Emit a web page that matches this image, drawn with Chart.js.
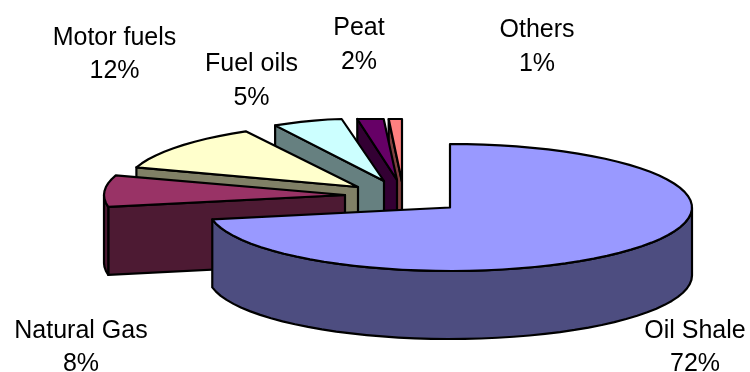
<!DOCTYPE html>
<html>
<head>
<meta charset="utf-8">
<style>
  html, body { margin: 0; padding: 0; background: #fff; }
  canvas { display: block; }
</style>
<script src="https://cdn.jsdelivr.net/npm/chart.js@4/dist/chart.umd.min.js"></script>
</head>
<body>
<canvas id="chart" width="750" height="372"></canvas>
<script>
// Energy source shares
const categories = ['Oil Shale', 'Natural Gas', 'Motor fuels', 'Fuel oils', 'Peat', 'Others'];
const shares = [72, 8, 12, 5, 2, 1];

// Slice colours: top faces and their shaded walls
const topColors = ['#9999FF', '#993366', '#FFFFCC', '#CCFFFF', '#660066', '#FF8080'];
const wallColors = ['#4D4D80', '#4D1A33', '#808066', '#668080', '#330033', '#804040'];

// Where each exploded slice's tip sits on the page
const sliceTips = [[450, 207.5], [345, 195], [358, 187], [384, 181], [397, 180], [402, 182]];

// Horizontal radius per slice: farther slices shrink with perspective
const sliceSpans = [242, 241, 233, 226, 212, 212];

// Label anchors: centre x, name baseline, percent baseline
const labelAnchors = [
  [695, 338, 371], [81, 338, 371], [114.5, 45, 78],
  [251.5, 71, 105], [359, 35, 69], [537, 37, 71]
];

const RY = 63.5, DEPTH = 68, TOP_LIMIT = 119;

const tiltedPie = {
  id: 'tiltedPie',
  beforeDatasetsDraw(chart) {
    const ctx = chart.ctx;
    const arcs = chart.getDatasetMeta(0).data;
    const rim = (i, a, dy = 0) => {
      const [cx, cy] = sliceTips[i];
      return [cx + sliceSpans[i] * Math.cos(a), Math.max(TOP_LIMIT, cy + RY * Math.sin(a)) + dy];
    };
    const arcPoints = (i, s, e, dy = 0) => {
      const n = Math.max(1, Math.ceil((e - s) / (Math.PI / 45)));
      const pts = [];
      for (let k = 0; k <= n; k++) pts.push(rim(i, s + (e - s) * k / n, dy));
      return pts;
    };
    const outline = (pts, fill) => {
      ctx.beginPath();
      pts.forEach(([x, y], k) => (k ? ctx.lineTo(x, y) : ctx.moveTo(x, y)));
      ctx.closePath();
      if (fill) { ctx.fillStyle = fill; ctx.fill(); }
      ctx.stroke();
    };

    ctx.save();
    ctx.lineWidth = 2.2;
    ctx.lineJoin = 'round';
    ctx.strokeStyle = '#000';

    // Paint back to front so nearer slices hide the farther ones
    for (let i = arcs.length - 1; i >= 0; i--) {
      const arc = arcs[i];
      const [cx, cy] = sliceTips[i];
      const s = arc.startAngle, e = arc.endAngle;

      // Radial wall facing the viewer (the cut at the slice's start angle)
      if (i > 0) {
        const c = rim(i, s);
        outline([[cx, cy], c, [c[0], c[1] + DEPTH], [cx, cy + DEPTH]], wallColors[i]);
      }

      // Curved outer wall on the near half of the rim
      const ws = Math.max(s, 0), we = Math.min(e, Math.PI);
      if (we > ws) {
        outline([...arcPoints(i, ws, we), ...arcPoints(i, ws, we, DEPTH).reverse()], wallColors[i]);
      }

      // Top face: the library's arc squashed into an ellipse
      ctx.save();
      ctx.beginPath();
      ctx.rect(0, TOP_LIMIT, chart.width, chart.height);
      ctx.clip();
      ctx.translate(cx, cy);
      ctx.scale(sliceSpans[i] / arc.outerRadius, RY / arc.outerRadius);
      ctx.translate(-arc.x, -arc.y);
      arc.draw(ctx);
      ctx.restore();
      outline([[cx, cy], ...arcPoints(i, s, e)]);
    }

    // Two-line category labels
    ctx.fillStyle = '#000';
    ctx.font = '25px "Liberation Sans", Arial, sans-serif';
    ctx.textAlign = 'center';
    categories.forEach((name, i) => {
      const [x, y1, y2] = labelAnchors[i];
      ctx.fillText(name, x, y1);
      ctx.fillText(shares[i] + '%', x, y2);
    });
    ctx.restore();
    return false;
  }
};

new Chart(document.getElementById('chart'), {
  type: 'pie',
  data: {
    labels: categories,
    datasets: [{
      data: shares,
      backgroundColor: topColors,
      borderWidth: 0,
      hoverOffset: 0
    }]
  },
  options: {
    responsive: false,
    animation: false,
    events: [],
    plugins: { legend: { display: false }, tooltip: { enabled: false } }
  },
  plugins: [tiltedPie]
});
</script>
</body>
</html>
